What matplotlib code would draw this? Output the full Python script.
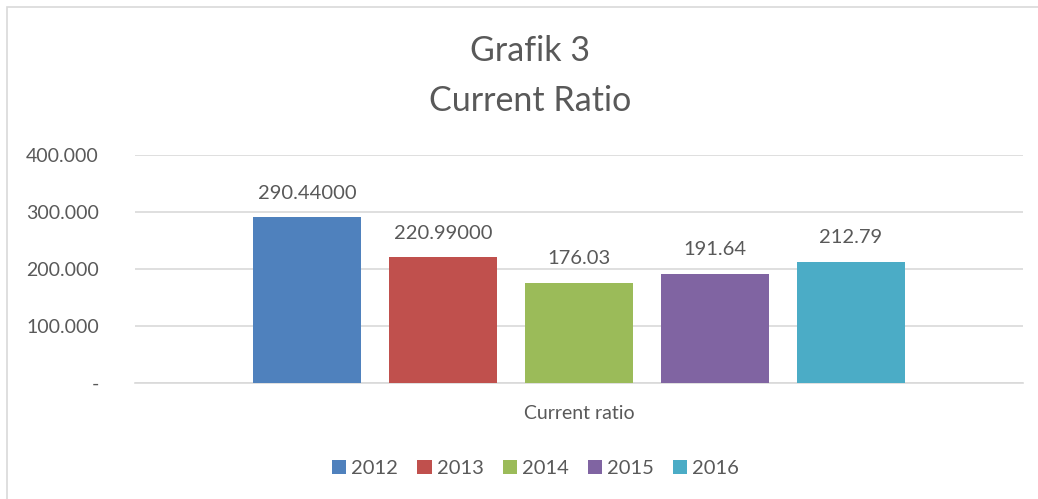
import matplotlib
matplotlib.use("Agg")
import matplotlib.pyplot as plt
from matplotlib.patches import Rectangle, Patch

plt.rcParams["font.family"] = ["Lato", "DejaVu Sans"]

years = ["2012", "2013", "2014", "2015", "2016"]
values = [290.44, 220.99, 176.03, 191.64, 212.79]
labels = ["290.44000", "220.99000", "176.03", "191.64", "212.79"]
colors = ["#4f81bd", "#c0504d", "#9bbb59", "#8064a2", "#4bacc6"]
yticks = [0, 100, 200, 300, 400]
ytick_labels = ["-", "100.000", "200.000", "300.000", "400.000"]

TXT = "#595959"

fig = plt.figure(figsize=(10.38, 4.99), dpi=100)
# chart frame (light grey border, cut off at right/bottom)
fig.patches.append(Rectangle((7 / 1038, -0.1), 1.2, 1.1 - 7 / 499,
                             transform=fig.transFigure, fill=False,
                             edgecolor="#d9d9d9", lw=1.2))

ax = fig.add_axes([0.130, 0.2325, 0.8555, 0.4569])
step = 0.1532
width = 0.1216
for i, (v, lab, c) in enumerate(zip(values, labels, colors)):
    x = (i - 2) * step
    ax.bar(x, v, width=width, color=c, zorder=3)
    ax.text(x, v + 27, lab, ha="center", va="bottom", fontsize=14.5, color=TXT)

ax.set_xlim(-0.5, 0.5)
ax.set_ylim(0, 400)
ax.set_yticks(yticks)
ax.set_yticklabels(ytick_labels, fontsize=14, color=TXT)
ax.yaxis.grid(True, color="#d9d9d9", lw=1.2, zorder=0)
ax.tick_params(axis="y", length=0, pad=26)
ax.set_xticks([0])
ax.set_xticklabels(["Current ratio"], fontsize=14, color=TXT)
ax.tick_params(axis="x", length=0, pad=16)
for s in ["top", "right", "left"]:
    ax.spines[s].set_visible(False)
ax.spines["bottom"].set_color("#d9d9d9")
ax.spines["bottom"].set_linewidth(1.2)

fig.text(0.511, 0.898, "Grafik 3", ha="center", va="center", fontsize=24.5, color=TXT)
fig.text(0.511, 0.797, "Current Ratio", ha="center", va="center", fontsize=24.5, color=TXT)

handles = [Patch(facecolor=c, label=y) for y, c in zip(years, colors)]
fig.legend(handles=handles, loc="center", bbox_to_anchor=(0.516, 0.062), ncol=5,
           frameon=False, fontsize=14.5, labelcolor=TXT, handlelength=0.7,
           handleheight=0.7, handletextpad=0.25, columnspacing=0.95)

fig.savefig("out.png", dpi=100)
